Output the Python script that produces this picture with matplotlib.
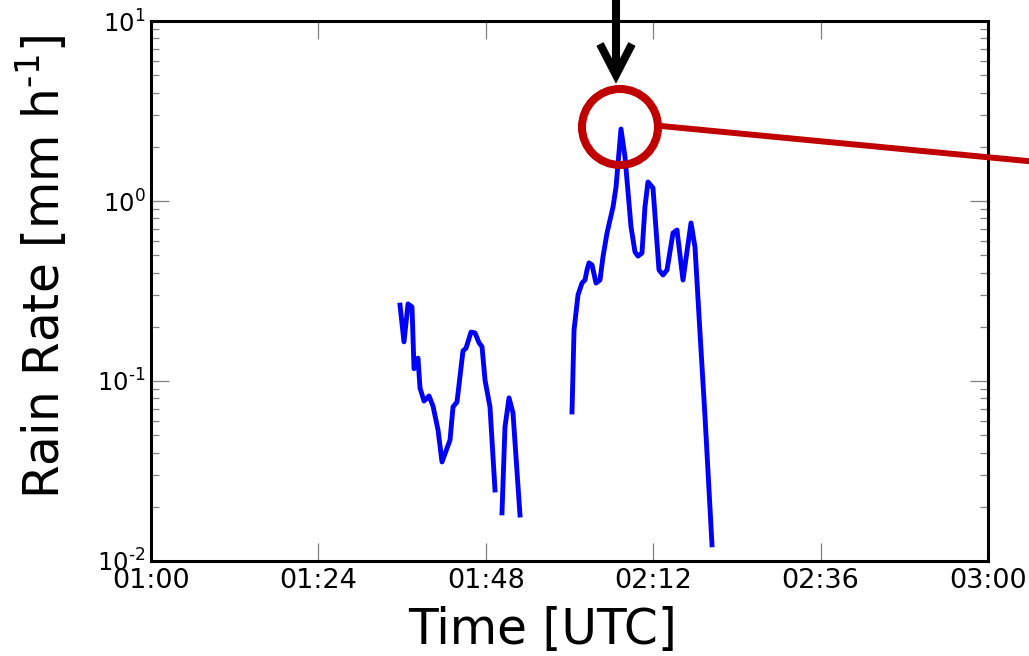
import numpy as np
import matplotlib
matplotlib.use("Agg")
import matplotlib.pyplot as plt
from matplotlib.patches import Circle

plt.rcParams['axes.unicode_minus'] = False

# minutes after 01:00 UTC and rain rate [mm/h], three pieces with gaps between them
t1 = [35.70, 36.27, 36.85, 37.42, 37.71, 38.28, 38.57, 39.14, 39.86, 40.43,
      41.15, 41.72, 42.87, 43.30, 43.87, 44.73, 45.16, 45.88, 46.45, 47.03,
      47.46, 47.89, 48.60, 49.32]
r1 = [0.264, 0.165, 0.268, 0.258, 0.117, 0.134, 0.0914, 0.0774, 0.0826, 0.0726,
      0.0535, 0.0355, 0.0470, 0.0718, 0.0764, 0.147, 0.152, 0.187, 0.185, 0.163,
      0.155, 0.101, 0.0718, 0.0248]

t2 = [50.32, 50.75, 51.33, 51.90, 52.90]
r2 = [0.0185, 0.0555, 0.0806, 0.0664, 0.0180]

t3 = [60.36, 60.65, 61.22, 61.79, 62.22, 62.51, 62.80, 63.23, 63.80, 64.37,
      64.80, 65.38, 66.24, 66.67, 67.38, 67.96, 68.82, 69.39, 69.82, 70.39,
      70.82, 71.25, 71.97, 72.83, 73.41, 73.98, 74.84, 75.41, 76.27, 77.42,
      77.99, 78.71, 79.43, 80.43]
r3 = [0.0673, 0.192, 0.301, 0.350, 0.364, 0.414, 0.453, 0.441, 0.350, 0.364,
      0.489, 0.664, 0.927, 1.196, 2.512, 1.755, 0.718, 0.521, 0.494, 0.514,
      0.927, 1.276, 1.181, 0.414, 0.388, 0.414, 0.664, 0.690, 0.364, 0.755,
      0.555, 0.185, 0.0631, 0.0123]

xticks = [0, 24, 48, 72, 96, 120]
xticklabels = ['01:00', '01:24', '01:48', '02:12', '02:36', '03:00']
yticks = [1e-2, 1e-1, 1e0, 1e1]
yticklabels = [r'$\mathdefault{10^{\text{-}2}}$', r'$\mathdefault{10^{\text{-}1}}$',
               r'$\mathdefault{10^{0}}$', r'$\mathdefault{10^{1}}$']

t = np.concatenate([t1, [np.nan], t2, [np.nan], t3])
r = np.concatenate([r1, [np.nan], r2, [np.nan], r3])

W, H = 1029, 656
fig = plt.figure(figsize=(W / 100, H / 100), dpi=100)
ax = fig.add_axes([151 / W, 1 - 561 / H, (988 - 151) / W, (561 - 21) / H])

ax.plot(t, r, color='blue', lw=3.5)
ax.set_yscale('log')
ax.set_ylim(1e-2, 1e1)
ax.set_xlim(0, 120)
ax.set_xticks(xticks)
ax.set_xticklabels(xticklabels)
ax.set_yticks(yticks)
ax.set_yticklabels(yticklabels)

ax.tick_params(which='both', direction='in', top=True, right=True,
               color='gray', labelcolor='black')
ax.tick_params(which='major', length=13, width=0.9)
ax.tick_params(which='minor', length=6, width=0.9)
ax.tick_params(axis='x', labelsize=19.5, pad=5)
ax.tick_params(axis='y', labelsize=17.5, pad=4)
for s in ax.spines.values():
    s.set_linewidth(2.2)

fig.text(543 / W, 1 - 630 / H, 'Time [UTC]', fontsize=35, ha='center', va='center')
fig.text(42 / W, 1 - 267 / H, r'Rain Rate [mm h$^{\mathdefault{\text{-}1}}$]', fontsize=35,
         rotation=90, ha='center', va='center')

# annotation around the peak, in pixel coordinates of the figure
ov = fig.add_axes([0, 0, 1, 1], zorder=5)
ov.set_xlim(0, W)
ov.set_ylim(H, 0)
ov.axis('off')
ov.patch.set_alpha(0)

ip = int(np.argmax(r3))
px, py = ax.transData.transform((t3[ip], r3[ip]))
py = H - py
cx, cy = px - 1, py - 2
rad = 38
red = '#c00000'
ov.add_patch(Circle((cx, cy), rad, fill=False, ec=red, lw=5.8))
ov.plot([cx + rad + 3, W + 10], [cy - 1, cy - 1 + 0.0956 * (W + 10 - cx - rad - 3)],
        color=red, lw=4.3, solid_capstyle='butt')

ax_x = cx - 4
tip = cy - 52
ov.plot([ax_x, ax_x], [-5, tip - 4], color='black', lw=5.8, solid_capstyle='butt')
ov.plot([ax_x - 16, ax_x, ax_x + 16], [tip - 31, tip, tip - 31], color='black', lw=5.8,
        solid_joinstyle='miter', solid_capstyle='butt')

fig.savefig('out.png', dpi=100)
